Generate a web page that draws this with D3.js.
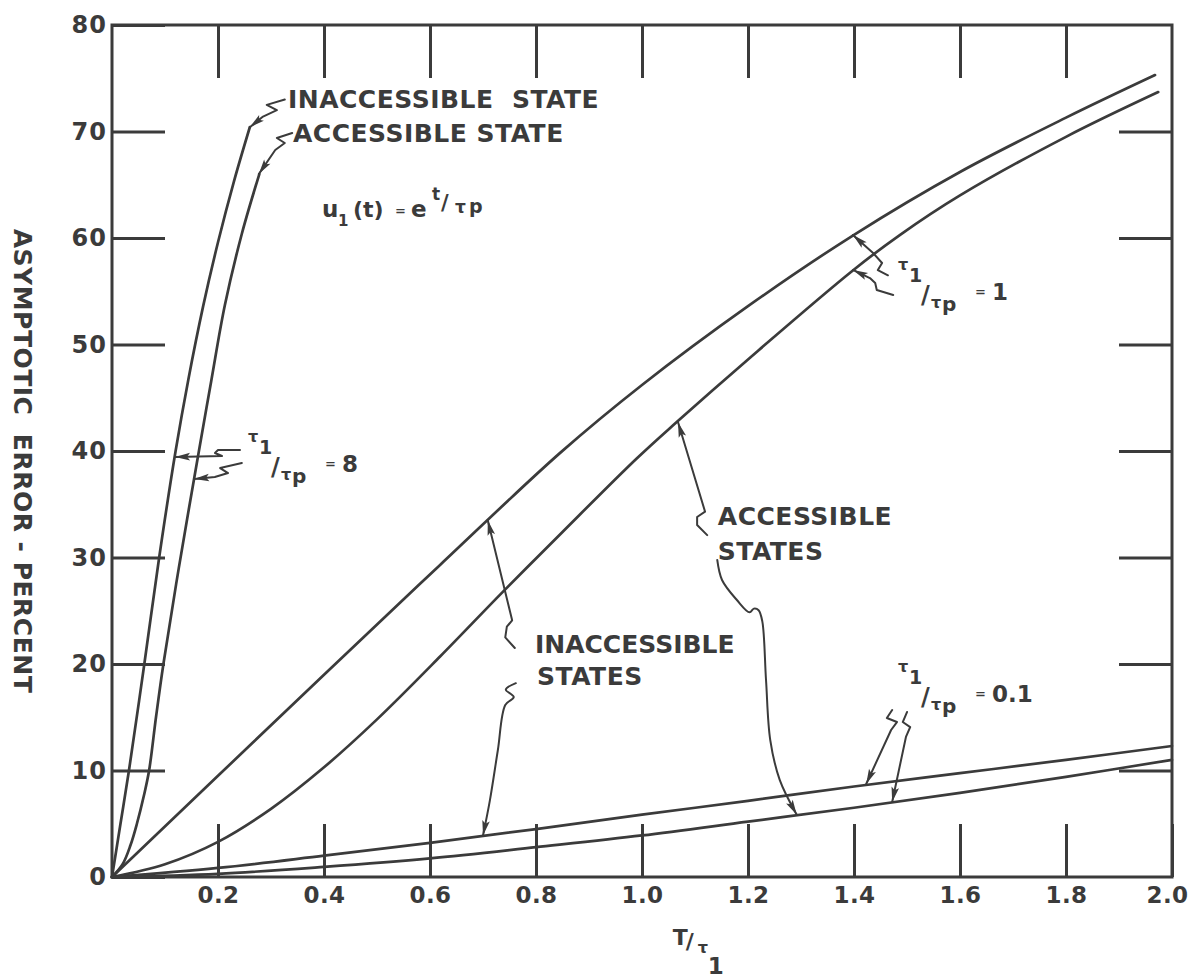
<!DOCTYPE html>
<html><head><meta charset="utf-8">
<script src="https://cdn.jsdelivr.net/npm/d3@7"></script>
<style>
body{margin:0;background:#fff}
svg{display:block}
text{font-family:"DejaVu Sans",sans-serif;font-weight:bold;fill:#3b3b3b}
</style>
</head><body>
<svg id="c" width="1193" height="980"></svg>
<script>
// ---------- data ----------
const xTicks = [0.2, 0.4, 0.6, 0.8, 1.0, 1.2, 1.4, 1.6, 1.8, 2.0];
const xTickLabels = ["0.2", "0.4", "0.6", "0.8", "1.0", "1.2", "1.4", "1.6", "1.8", "2.0"];
const yTicks = [0, 10, 20, 30, 40, 50, 60, 70, 80];
const yTickLabels = ["0", "10", "20", "30", "40", "50", "60", "70", "80"];

// tau1/taup = 8
const tau8InaccX = [0, 0.016, 0.032, 0.061, 0.089, 0.120, 0.144, 0.172, 0.200, 0.230, 0.260];
const tau8InaccY = [0, 5, 10, 20, 30, 40, 46.7, 53.6, 59.6, 65.3, 70.4];
const tau8AccX = [0, 0.02, 0.035, 0.047, 0.06, 0.070, 0.083, 0.097, 0.126, 0.164, 0.187, 0.213, 0.245, 0.278];
const tau8AccY = [0, 1.2, 3.0, 5.0, 7.6, 10, 15, 20, 29, 40, 46.5, 53.7, 60.4, 66.0];
// tau1/taup = 1
const tau1InaccX = [0, 0.2, 0.4, 0.619, 0.845, 1.0, 1.2, 1.4, 1.6, 1.8, 1.968];
const tau1InaccY = [0, 9.5, 19.0, 29.3, 39.8, 46.2, 53.6, 60.3, 66.2, 71.3, 75.3];
const tau1AccX = [0, 0.1, 0.2, 0.3, 0.4, 0.5, 0.619, 0.736, 0.85, 0.99, 1.065, 1.2, 1.399, 1.487, 1.6, 1.8, 1.974];
const tau1AccY = [0, 1.2, 3.3, 6.4, 10.3, 14.8, 20.7, 26.7, 32.4, 39.3, 42.7, 48.6, 57.0, 60.3, 64.0, 69.5, 73.7];
// tau1/taup = 0.1
const tau01X = [0, 0.2, 0.4, 0.6, 0.8, 1.0, 1.2, 1.4, 1.6, 1.8, 2.0];
const tau01InaccY = [0, 0.85, 2.0, 3.2, 4.5, 5.85, 7.15, 8.5, 9.75, 11.0, 12.3];
const tau01AccY = [0, 0.3, 0.95, 1.75, 2.8, 3.9, 5.2, 6.5, 7.9, 9.4, 11.0];

// annotation leader lines (data units: [T/tau1, percent])
const leadInaccState = [[0.326,73.0],[0.292,72.5],[0.311,72.0],[0.285,71.4],[0.260,70.4]];
const leadAccState = [[0.340,69.86],[0.311,69.39],[0.326,68.92],[0.308,68.26],[0.277,66.0]];
const lead8Upper = [[0.2415,40.09],[0.200,40.09],[0.1943,39.81],[0.2075,39.53],[0.119,39.44]];
const lead8Lower = [[0.245,38.87],[0.204,38.4],[0.219,37.93],[0.194,37.56],[0.155,37.37]];
const lead1Upper = [[1.464,56.5],[1.445,56.99],[1.453,57.65],[1.436,58.59],[1.398,60.28]];
const lead1Lower = [[1.474,54.65],[1.443,55.12],[1.440,55.77],[1.430,56.24],[1.398,57.0]];
const leadInaccStates1 = [[0.760,21.5],[0.742,22.5],[0.745,23.5],[0.755,24.1],[0.709,33.5]];
const leadAccStates1 = [[1.123,32.1],[1.104,33.05],[1.104,33.8],[1.119,34.3],[1.068,42.7]];
const leadAccStates01 = [[1.142,29.77],[1.151,27.89],[1.179,26.01],[1.203,24.85],[1.211,25.2],[1.220,25.05],[1.227,24.0],[1.234,18.5],[1.242,12.86],[1.260,9.1],[1.292,5.85]];
const leadInaccStates01 = [[0.762,18.2],[0.743,17.6],[0.758,16.9],[0.742,16.15],[0.728,11.9],[0.713,7.2],[0.700,3.9]];
const lead01Upper = [[1.472,15.68],[1.462,14.93],[1.481,14.55],[1.470,13.8],[1.423,8.73]];
const lead01Lower = [[1.500,15.49],[1.492,14.55],[1.506,14.08],[1.498,13.15],[1.472,7.04]];

// ---------- drawing ----------
const ink = "#3b3b3b";
const svg = d3.select("#c");
const x = d3.scaleLinear().domain([0, 2]).range([112, 1172]);
const y = d3.scaleLinear().domain([0, 80]).range([877, 25]);

const defs = svg.append("defs");
defs.append("marker").attr("id", "ah")
  .attr("viewBox", "-16 -5 17 10").attr("refX", 0).attr("refY", 0)
  .attr("markerWidth", 17).attr("markerHeight", 10)
  .attr("markerUnits", "userSpaceOnUse").attr("orient", "auto")
  .append("path").attr("d", "M0,0L-15,-3.8L-12,0L-15,3.8Z").attr("fill", ink);

// frame
svg.append("rect")
  .attr("x", x(0)).attr("y", y(80))
  .attr("width", x(2) - x(0)).attr("height", y(0) - y(80))
  .attr("fill", "none").attr("stroke", ink).attr("stroke-width", 3);

function styleAxis(g, size, ls) {
  g.select(".domain").remove();
  g.attr("font-size", size).attr("font-family", "DejaVu Sans").attr("font-weight", "bold");
  g.selectAll(".tick line").attr("stroke", ink).attr("stroke-width", 3);
  g.selectAll(".tick text").attr("fill", ink).attr("letter-spacing", ls);
}
const inner = 53;
const gb = svg.append("g").attr("transform", `translate(0,${y(0)})`)
  .call(d3.axisBottom(x).tickValues(xTicks).tickSize(-inner).tickPadding(10)
    .tickFormat((d, i) => xTickLabels[i]))
  .call(styleAxis, 23, 0.5);
gb.selectAll(".tick text").filter(d => d === 2.0).attr("dx", -5);
svg.append("g").attr("transform", `translate(0,${y(80)})`)
  .call(d3.axisTop(x).tickValues(xTicks.slice(0, -1)).tickSize(-inner).tickFormat(""))
  .call(styleAxis, 23, 0);
svg.append("g").attr("transform", `translate(${x(0)},0)`)
  .call(d3.axisLeft(y).tickValues(yTicks).tickSize(-inner).tickPadding(5)
    .tickFormat((d, i) => yTickLabels[i]))
  .call(styleAxis, 24, 1);
svg.append("g").attr("transform", `translate(${x(2)},0)`)
  .call(d3.axisRight(y).tickValues(yTicks.slice(1, -1)).tickSize(-inner).tickFormat(""))
  .call(styleAxis, 23, 0);

// curves
const line = d3.line().x(d => x(d[0])).y(d => y(d[1])).curve(d3.curveCatmullRom.alpha(0.5));
const series = [
  d3.zip(tau8InaccX, tau8InaccY), d3.zip(tau8AccX, tau8AccY),
  d3.zip(tau1InaccX, tau1InaccY), d3.zip(tau1AccX, tau1AccY),
  d3.zip(tau01X, tau01InaccY), d3.zip(tau01X, tau01AccY)
];
svg.append("g").selectAll("path").data(series).join("path")
  .attr("d", line).attr("fill", "none").attr("stroke", ink)
  .attr("stroke-width", 2.7).attr("stroke-linejoin", "round").attr("stroke-linecap", "round");

// leader lines
const zig = d3.line().x(d => x(d[0])).y(d => y(d[1])).curve(d3.curveLinear);
const smooth = d3.line().x(d => x(d[0])).y(d => y(d[1])).curve(d3.curveCatmullRom.alpha(0.5));
const leaders = [
  [leadInaccState, zig], [leadAccState, zig], [lead8Upper, zig], [lead8Lower, zig],
  [lead1Upper, zig], [lead1Lower, zig], [leadInaccStates1, zig], [leadAccStates1, zig],
  [leadAccStates01, smooth], [leadInaccStates01, smooth], [lead01Upper, zig], [lead01Lower, zig]
];
svg.append("g").selectAll("path").data(leaders).join("path")
  .attr("d", d => d[1](d[0])).attr("fill", "none").attr("stroke", ink)
  .attr("stroke-width", 2).attr("stroke-linejoin", "round").attr("stroke-linecap", "round")
  .attr("marker-end", "url(#ah)");

// text helpers
function label(xd, yd, str, size, ls) {
  svg.append("text").attr("x", x(xd)).attr("y", y(yd))
    .attr("font-size", size).attr("letter-spacing", ls || 0)
    .style("white-space", "pre").text(str);
}
label(0.332, 72.21, "INACCESSIBLE  STATE", 25, 0.5);
label(0.3415, 69.01, "ACCESSIBLE STATE", 25, 0.5);
label(1.143, 33.05, "ACCESSIBLE", 25, 0.5);
label(1.143, 29.77, "STATES", 25, 0.5);
label(0.798, 21.03, "INACCESSIBLE", 25, 0);
label(0.802, 18.03, "STATES", 25, 0.5);

// formula u1(t) = e^{t/tau_p}
(function () {
  const ax = x(0.396), ay = y(61.97);
  const parts = [["u", 0, 0, 23], ["1", 16, 9, 15], ["(t)", 31, 0, 22], ["=", 73, -2, 13],
                 ["e", 89, 0, 23], ["t", 110, -17, 17], ["/", 119, -7, 21], ["τ", 133, -4, 17], ["p", 147, -4, 19]];
  const t = svg.append("text");
  parts.forEach(p => t.append("tspan").attr("x", ax + p[1]).attr("y", ay + p[2]).attr("font-size", p[3]).text(p[0]));
})();

// ratio labels tau1/taup = v
function ratio(xd, yd, v) {
  const ax = x(xd), ay = y(yd);
  const parts = [["τ", 0, 0, 16], ["1", 11, 12, 19], ["/", 23, 33, 24], ["τ", 33, 38, 16],
                 ["p", 44, 41, 20], ["=", 77, 26, 13], [v, 94, 30, 23]];
  const t = svg.append("text");
  parts.forEach(p => t.append("tspan").attr("x", ax + p[1]).attr("y", ay + p[2]).attr("font-size", p[3]).text(p[0]));
}
ratio(0.2566, 40.85, "8");
ratio(1.483, 57.0, "1");
ratio(1.483, 19.25, "0.1");

// x axis title T/tau1
(function () {
  const ax = x(1.058), ay = y(0) + 68;
  const t = svg.append("text");
  [["T", 0, 0, 22], ["/", 13, 4, 22], ["τ", 25, 8, 16], ["1", 35, 29, 23]]
    .forEach(p => t.append("tspan").attr("x", ax + p[1]).attr("y", ay + p[2]).attr("font-size", p[3]).text(p[0]));
})();

// y axis title
svg.append("text")
  .attr("transform", `translate(14,${(y(0) + y(80)) / 2 + 10}) rotate(90)`)
  .attr("text-anchor", "middle").attr("font-size", 25).attr("letter-spacing", 0.5)
  .style("white-space", "pre")
  .text("ASYMPTOTIC  ERROR - PERCENT");
</script>
</body></html>
